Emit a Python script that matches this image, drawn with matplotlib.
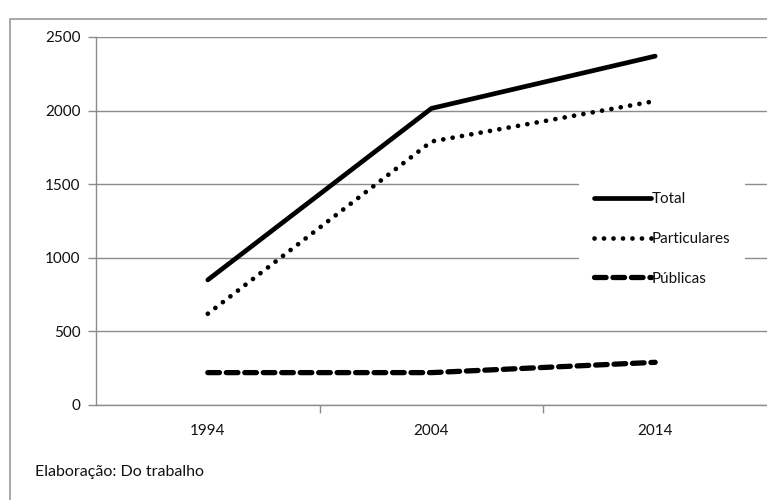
import matplotlib.pyplot as plt
from matplotlib.patches import Rectangle

# Data
years = ['1994', '2004', '2014']
total = [850, 2015, 2370]
particulares = [620, 1790, 2065]
publicas = [220, 220, 290]

plt.rcParams['font.family'] = ['Lato', 'DejaVu Sans']

fig = plt.figure(figsize=(7.67, 5.0), dpi=100)
ax = fig.add_axes([96 / 767, 1 - 405 / 500, 671 / 767, 368 / 500])

# outer frame of the original figure
fig.patches.append(Rectangle((10 / 767, -0.1), 1.2, 1 - 19 / 500 + 0.1,
                             transform=fig.transFigure, fill=False,
                             edgecolor='#9a9a9a', linewidth=1.2))

x = range(len(years))
ax.plot(x, total, color='black', linewidth=3.4, solid_capstyle='round', label='Total')
ax.plot(x, particulares, color='black', linewidth=3.4, linestyle=(0, (0.01, 2.0)),
        dash_capstyle='round', label='Particulares')
ax.plot(x, publicas, color='black', linewidth=3.8, linestyle=(0, (2.2, 1.3)),
        dash_capstyle='round', label='Públicas')

ax.set_xlim(-0.5, 2.5)
ax.set_ylim(0, 2500)
ax.set_yticks([0, 500, 1000, 1500, 2000, 2500])
ax.grid(axis='y', color='#8c8c8c', linewidth=1)
ax.set_axisbelow(True)

ax.set_xticks(list(x))
ax.set_xticklabels(years)
ax.set_xticks([0.5, 1.5], minor=True)
ax.tick_params(axis='x', which='major', length=0, pad=14, labelsize=11, colors='#111111')
ax.tick_params(axis='x', which='minor', length=6, color='#8c8c8c', width=1)
ax.tick_params(axis='y', length=6, color='#8c8c8c', width=1, pad=5, labelsize=11,
               labelcolor='#111111')

for side in ['top', 'right']:
    ax.spines[side].set_visible(False)
for side in ['left', 'bottom']:
    ax.spines[side].set_color('#8c8c8c')
    ax.spines[side].set_linewidth(1)

leg = ax.legend(loc='upper left', bbox_to_anchor=((579 - 96) / 671, (405 - 177) / 368),
                frameon=True, facecolor='white', edgecolor='none', fontsize=11,
                handlelength=3.7, handletextpad=0.05, labelspacing=1.68,
                borderpad=1.0, borderaxespad=0, fancybox=False, framealpha=1)
for t in leg.get_texts():
    t.set_color('#111111')

fig.text(35 / 767, 1 - 472 / 500, 'Elaboração: Do trabalho', fontsize=11.5,
         va='center', ha='left', color='#111111')

fig.savefig('out.png', dpi=100)
